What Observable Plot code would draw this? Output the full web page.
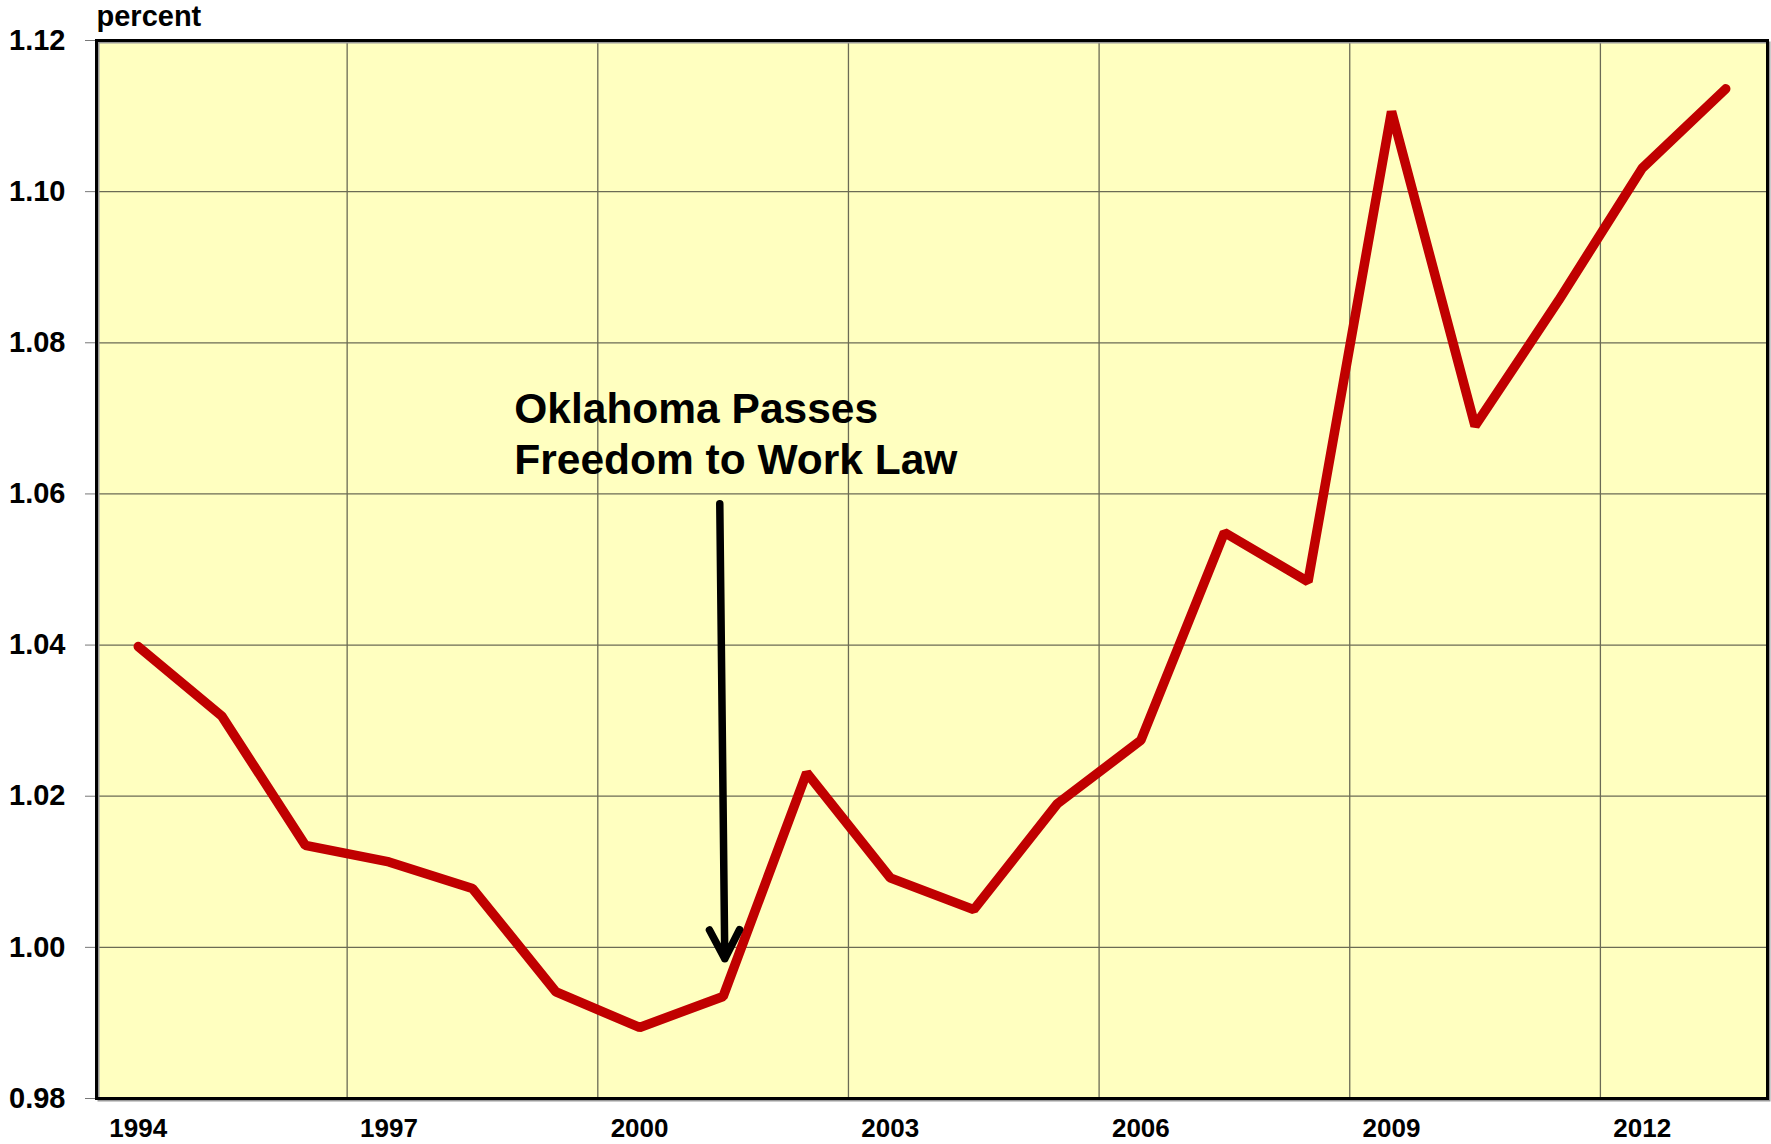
<!DOCTYPE html>
<html>
<head>
<meta charset="utf-8">
<script src="https://cdn.jsdelivr.net/npm/d3@7"></script>
<script src="https://cdn.jsdelivr.net/npm/@observablehq/plot@0.6"></script>
<style>
  html, body { margin: 0; padding: 0; background: #ffffff; }
  #chart svg { display: block; }
</style>
</head>
<body>
<div id="chart"></div>
<script>
// ---- Data ----
const years = [1994, 1995, 1996, 1997, 1998, 1999, 2000, 2001, 2002, 2003,
               2004, 2005, 2006, 2007, 2008, 2009, 2010, 2011, 2012, 2013];
const values = [1.0398, 1.0306, 1.0135, 1.0113, 1.0078, 0.9941, 0.9894, 0.9935, 1.0231, 1.0092,
                1.0050, 1.0190, 1.0274, 1.0549, 1.0484, 1.1106, 1.0690, 1.0856, 1.1031, 1.1136];
const xTickLabels = [1994, 1997, 2000, 2003, 2006, 2009, 2012];
const xGridLines = [1996.5, 1999.5, 2002.5, 2005.5, 2008.5, 2011.5];
const yTicks = [0.98, 1.00, 1.02, 1.04, 1.06, 1.08, 1.10, 1.12];
const yLabel = "percent";
const annotationLines = ["Oklahoma Passes", "Freedom to Work Law"];
const annotationX = [1998.5];
const annotationY = [1.0712, 1.0645];
const arrowFrom = {x: 2000.96, y: 1.0587};
const arrowTo = {x: 2001.02, y: 0.9985};

const data = years.map((y, i) => ({year: y, value: values[i]}));
const textData = annotationLines.map((t, i) => ({text: t, x: annotationX[0], y: annotationY[i]}));

const font = "'Liberation Sans', Arial, Helvetica, sans-serif";

const chart = Plot.plot({
  width: 1771,
  height: 1144,
  marginLeft: 96,
  marginRight: 4,
  marginTop: 40,
  marginBottom: 46,
  style: {fontFamily: font, fontWeight: "bold", color: "#000", background: "#fff"},
  x: {domain: [1993.5, 2013.5]},
  y: {domain: [0.98, 1.12]},
  marks: [
    Plot.frame({fill: "#FFFFC0", stroke: null}),
    Plot.gridX(xGridLines, {stroke: "#6b6b55", strokeOpacity: 1, strokeWidth: 1.3}),
    Plot.gridY(yTicks, {stroke: "#6b6b55", strokeOpacity: 1, strokeWidth: 1.3}),
    Plot.axisY(yTicks, {
      tickSize: 11, tickPadding: 20, stroke: "#777", tickFormat: d3.format(".2f"),
      fontSize: 29, fontWeight: "bold", fill: "#000", label: null
    }),
    Plot.axisX(xTickLabels, {
      tickSize: 0, tickPadding: 20, tickFormat: d => String(d),
      fontSize: 26, fontWeight: "bold", fill: "#000", label: null
    }),
    Plot.frame({stroke: "#999", strokeWidth: 2, dx: 2, dy: 2}),
    Plot.frame({stroke: "#000", strokeWidth: 3}),
    Plot.line(data, {x: "year", y: "value", stroke: "#C00000", strokeWidth: 9.5,
      strokeLinejoin: "miter", strokeLinecap: "round"}),
    Plot.arrow([{x1: arrowFrom.x, y1: arrowFrom.y, x2: arrowTo.x, y2: arrowTo.y}], {
      x1: "x1", y1: "y1", x2: "x2", y2: "y2",
      stroke: "#000", strokeWidth: 7.5, headLength: 6.5, headAngle: 55, strokeLinecap: "round"
    }),
    Plot.text(textData, {x: "x", y: "y", text: "text", textAnchor: "start",
      fontSize: 42.5, fontWeight: "bold", fill: "#000"}),
    Plot.text([yLabel], {frameAnchor: "top-left", text: d => d, textAnchor: "start",
      lineAnchor: "bottom", dy: -15, fontSize: 29, fontWeight: "bold", fill: "#000"})
  ]
});

document.getElementById("chart").appendChild(chart);
</script>
</body>
</html>
